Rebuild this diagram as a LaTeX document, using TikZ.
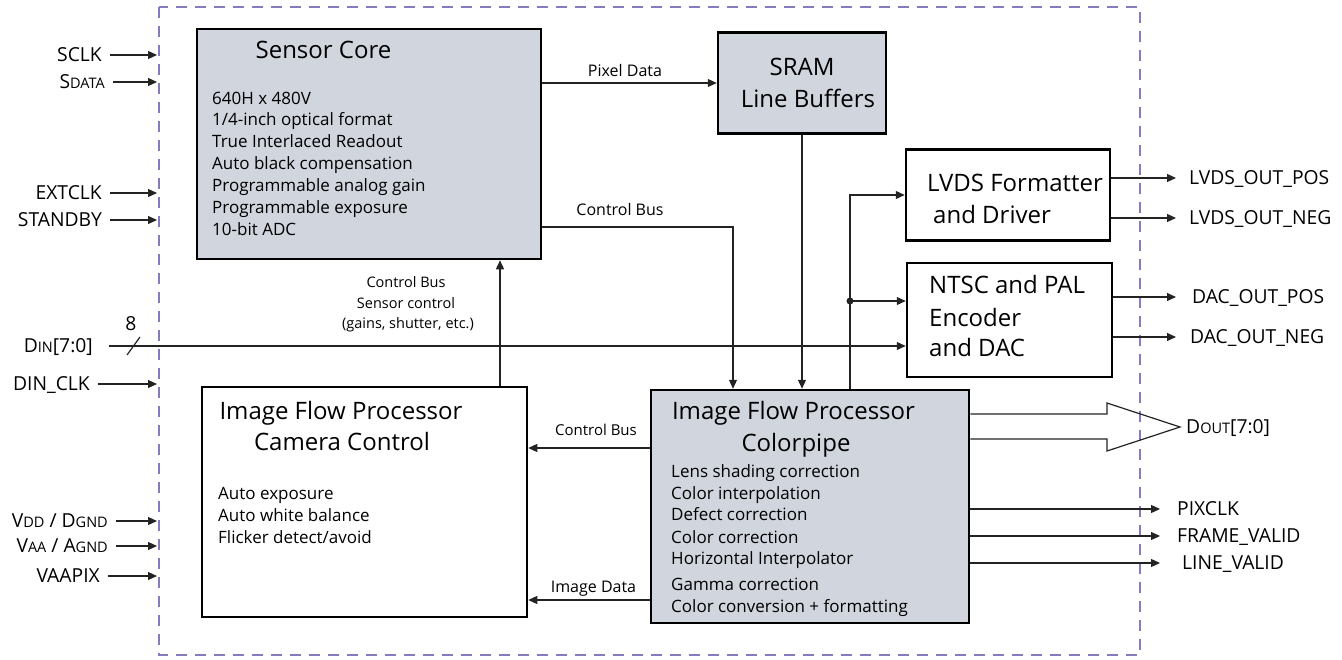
\documentclass[tikz,border=0pt]{standalone}
\usepackage{fontspec}
\setmainfont{Open Sans}
\usetikzlibrary{arrows.meta}
\definecolor{blockgray}{RGB}{209,213,222}
\definecolor{framelilac}{RGB}{137,122,190}
\definecolor{wirecol}{RGB}{35,35,35}
\newcommand{\lowcaps}[1]{{\fontsize{14.5}{14.5}\selectfont #1}}

\tikzset{
  block/.style={draw,line width=2.5pt,inner sep=0pt},
  grayblock/.style={block,fill=blockgray},
  wire/.style={line width=1.2pt,draw=wirecol,-{Triangle[length=9pt,width=8pt]}},
  busline/.style={line width=1.2pt,draw=wirecol},
  frame/.style={draw=framelilac,line width=2.6pt,dash pattern=on 11pt off 8pt},
  title/.style={inner sep=0pt,font=\fontsize{24}{24}\selectfont,text height=17.1pt,text depth=0pt},
  item/.style={inner sep=0pt,font=\fontsize{17}{17}\selectfont,text height=12.1pt,text depth=0pt,anchor=west},
  tag/.style={inner sep=0pt,font=\fontsize{16}{16}\selectfont,text height=11.4pt,text depth=0pt},
  smalltag/.style={tag,font=\fontsize{14.5}{14.5}\selectfont,text height=10.4pt},
  pin/.style={inner sep=0pt,font=\fontsize{19.3}{19.3}\selectfont,text height=13.8pt,text depth=0pt,anchor=east}
}

\begin{document}
\begin{tikzpicture}[x=1pt,y=-1pt]
\useasboundingbox (0,0) rectangle (1342,659);

% chip outline
\draw[frame] (159,7) rectangle (1140,655);

% blocks
\node[grayblock,minimum width=344pt,minimum height=230pt] (core) at (369,144) {};
\node[grayblock,minimum width=168pt,minimum height=101pt] (sram) at (802,83) {};
\node[block,minimum width=204pt,minimum height=91pt] (lvds) at (1008,195) {};
\node[block,minimum width=205pt,minimum height=114pt] (ntsc) at (1009.5,320) {};
\node[block,minimum width=325pt,minimum height=230pt] (camctl) at (364.5,502) {};
\node[grayblock,minimum width=318pt,minimum height=233pt] (pipe) at (810,506.5) {};

% block titles
\node[title] (coretitle) at (323.5,50) {Sensor Core};
\node[title] (sramtitle) at (802,67) {SRAM};
\node[title] (sramsub) at (808,99) {Line Buffers};
\node[title,anchor=west] (lvdstitle) at (927,183) {LVDS Formatter};
\node[title,anchor=west] (lvdssub) at (933,215) {and Driver};
\node[title,anchor=west] (ntsctitle) at (929,285) {NTSC and PAL};
\node[title,anchor=west] (ntscsub) at (929,318) {Encoder};
\node[title,anchor=west] (ntscdac) at (929,348) {and DAC};
\node[title] (camtitle) at (341,411) {Image Flow Processor};
\node[title] (camsub) at (342,442) {Camera Control};
\node[title] (pipetitle) at (793.5,411) {Image Flow Processor};
\node[title] (pipesub) at (796,443) {Colorpipe};

% feature lists
\foreach \t [count=\i] in {640H x 480V,1/4-inch optical format,True Interlaced Readout,Auto black compensation,Programmable analog gain,Programmable exposure,10-bit ADC}
  \node[item] (core-\i) at (212,{98+21.9*(\i-1)}) {\t};
\foreach \t [count=\i] in {Auto exposure,Auto white balance,{Flicker detect/avoid}}
  \node[item] (cam-\i) at (218,{493+22*(\i-1)}) {\t};
\foreach \t/\y [count=\i] in {Lens shading correction/471,Color interpolation/493,Defect correction/514,Color correction/537,Horizontal Interpolator/558,Gamma correction/584,Color conversion + formatting/606}
  \node[item] (pipe-\i) at (671,\y) {\t};

% internal buses
\draw[wire] (sram.west -| core.east) -- (sram.west);
\node[tag] (pixlbl) at (625,71) {Pixel Data};
\draw[wire] (sram.south) -- (sram.south |- pipe.north);
\coordinate (busturn) at (733,227);
\draw[wire] (busturn -| core.east) -- (busturn) -- (busturn |- pipe.north);
\node[tag] (cbuslbl) at (620,210) {Control Bus};
\coordinate (upx) at (500,0);
\draw[wire] (camctl.north -| upx) -- (core.south -| upx);
\node[smalltag] (ctl1) at (406,282) {Control Bus};
\node[smalltag] (ctl2) at (406,303) {Sensor control};
\node[smalltag] (ctl3) at (408,323) {(gains, shutter, etc.)};
\coordinate (cbrow) at (0,448);
\draw[wire] (pipe.west |- cbrow) -- (camctl.east |- cbrow);
\node[tag,font=\fontsize{15}{15}\selectfont,text height=10.7pt] (cbus2lbl) at (596,430) {Control Bus};
\coordinate (imgrow) at (0,600);
\draw[wire] (pipe.west |- imgrow) -- (camctl.east |- imgrow);
\node[tag] (imglbl) at (593.5,587) {Image Data};
\coordinate (tap) at (850,301);
\draw[wire] (tap |- pipe.north) -- (tap |- lvds.west) -- (lvds.west);
\draw[wire] (tap) -- (tap -| ntsc.west);
\fill[wirecol] (tap) circle (3.5pt);

% inputs
\node[pin] (sclk) at (102,55) {SCLK};
\node[pin] (sdata) at (105,82) {S\lowcaps{DATA}};
\node[pin] (extclk) at (102,193) {EXTCLK};
\node[pin] (standby) at (102,220) {STANDBY};
\node[pin] (din) at (93,346) {D\lowcaps{IN}[7:0]};
\node[pin] (dinclk) at (90,384) {DIN\_CLK};
\node[pin] (vdd) at (108,521) {V\lowcaps{DD} / D\lowcaps{GND}};
\node[pin] (vaa) at (108,546) {V\lowcaps{AA} / A\lowcaps{GND}};
\node[pin] (vaapix) at (100,576) {VAAPIX};
\coordinate (edge) at (157,0);
\foreach \p in {sclk,sdata,extclk,standby,dinclk,vdd,vaa,vaapix}
  \draw[wire] ([xshift=8pt]\p.east) -- (\p.east -| edge);
\draw[wire] ([xshift=16pt]din.east) -- (din.east -| ntsc.west);
\draw[busline] (127,355) -- (140,337);
\node[pin,anchor=center] (buswidth) at (131,324) {8};

% outputs
\node[pin,anchor=west] (lvdspos) at (1189,178) {LVDS\_OUT\_POS};
\node[pin,anchor=west] (lvdsneg) at (1189,218) {LVDS\_OUT\_NEG};
\node[pin,anchor=west] (dacpos) at (1192,297) {DAC\_OUT\_POS};
\node[pin,anchor=west] (dacneg) at (1190,337) {DAC\_OUT\_NEG};
\draw[wire] (lvds.east |- lvdspos) -- ([xshift=-13pt]lvdspos.west);
\draw[wire] (lvds.east |- lvdsneg) -- ([xshift=-13pt]lvdsneg.west);
\draw[wire] (ntsc.east |- dacpos) -- ([xshift=-16pt]dacpos.west);
\draw[wire] (ntsc.east |- dacneg) -- ([xshift=-14pt]dacneg.west);
\node[pin,anchor=west] (pixclk) at (1177,509) {PIXCLK};
\node[pin,anchor=west] (fvalid) at (1177,536) {FRAME\_VALID};
\node[pin,anchor=west] (lvalid) at (1182,563) {LINE\_VALID};
\draw[wire] (pipe.east |- pixclk) -- ([xshift=-17pt]pixclk.west);
\draw[wire] (pipe.east |- fvalid) -- ([xshift=-17pt]fvalid.west);
\draw[wire] (pipe.east |- lvalid) -- ([xshift=-22pt]lvalid.west);
\coordinate (doutA) at (1107,414);
\coordinate (doutB) at (1107,439);
\coordinate (dtip) at (1180,427);
\draw[busline] (pipe.east |- doutA) -- (doutA) -- (1107,403) -- (dtip) -- (1107,451) -- (doutB) -- (pipe.east |- doutB);
\node[pin,anchor=west] (dout) at (1186,427) {D\lowcaps{OUT}[7:0]};
\end{tikzpicture}
\end{document}
